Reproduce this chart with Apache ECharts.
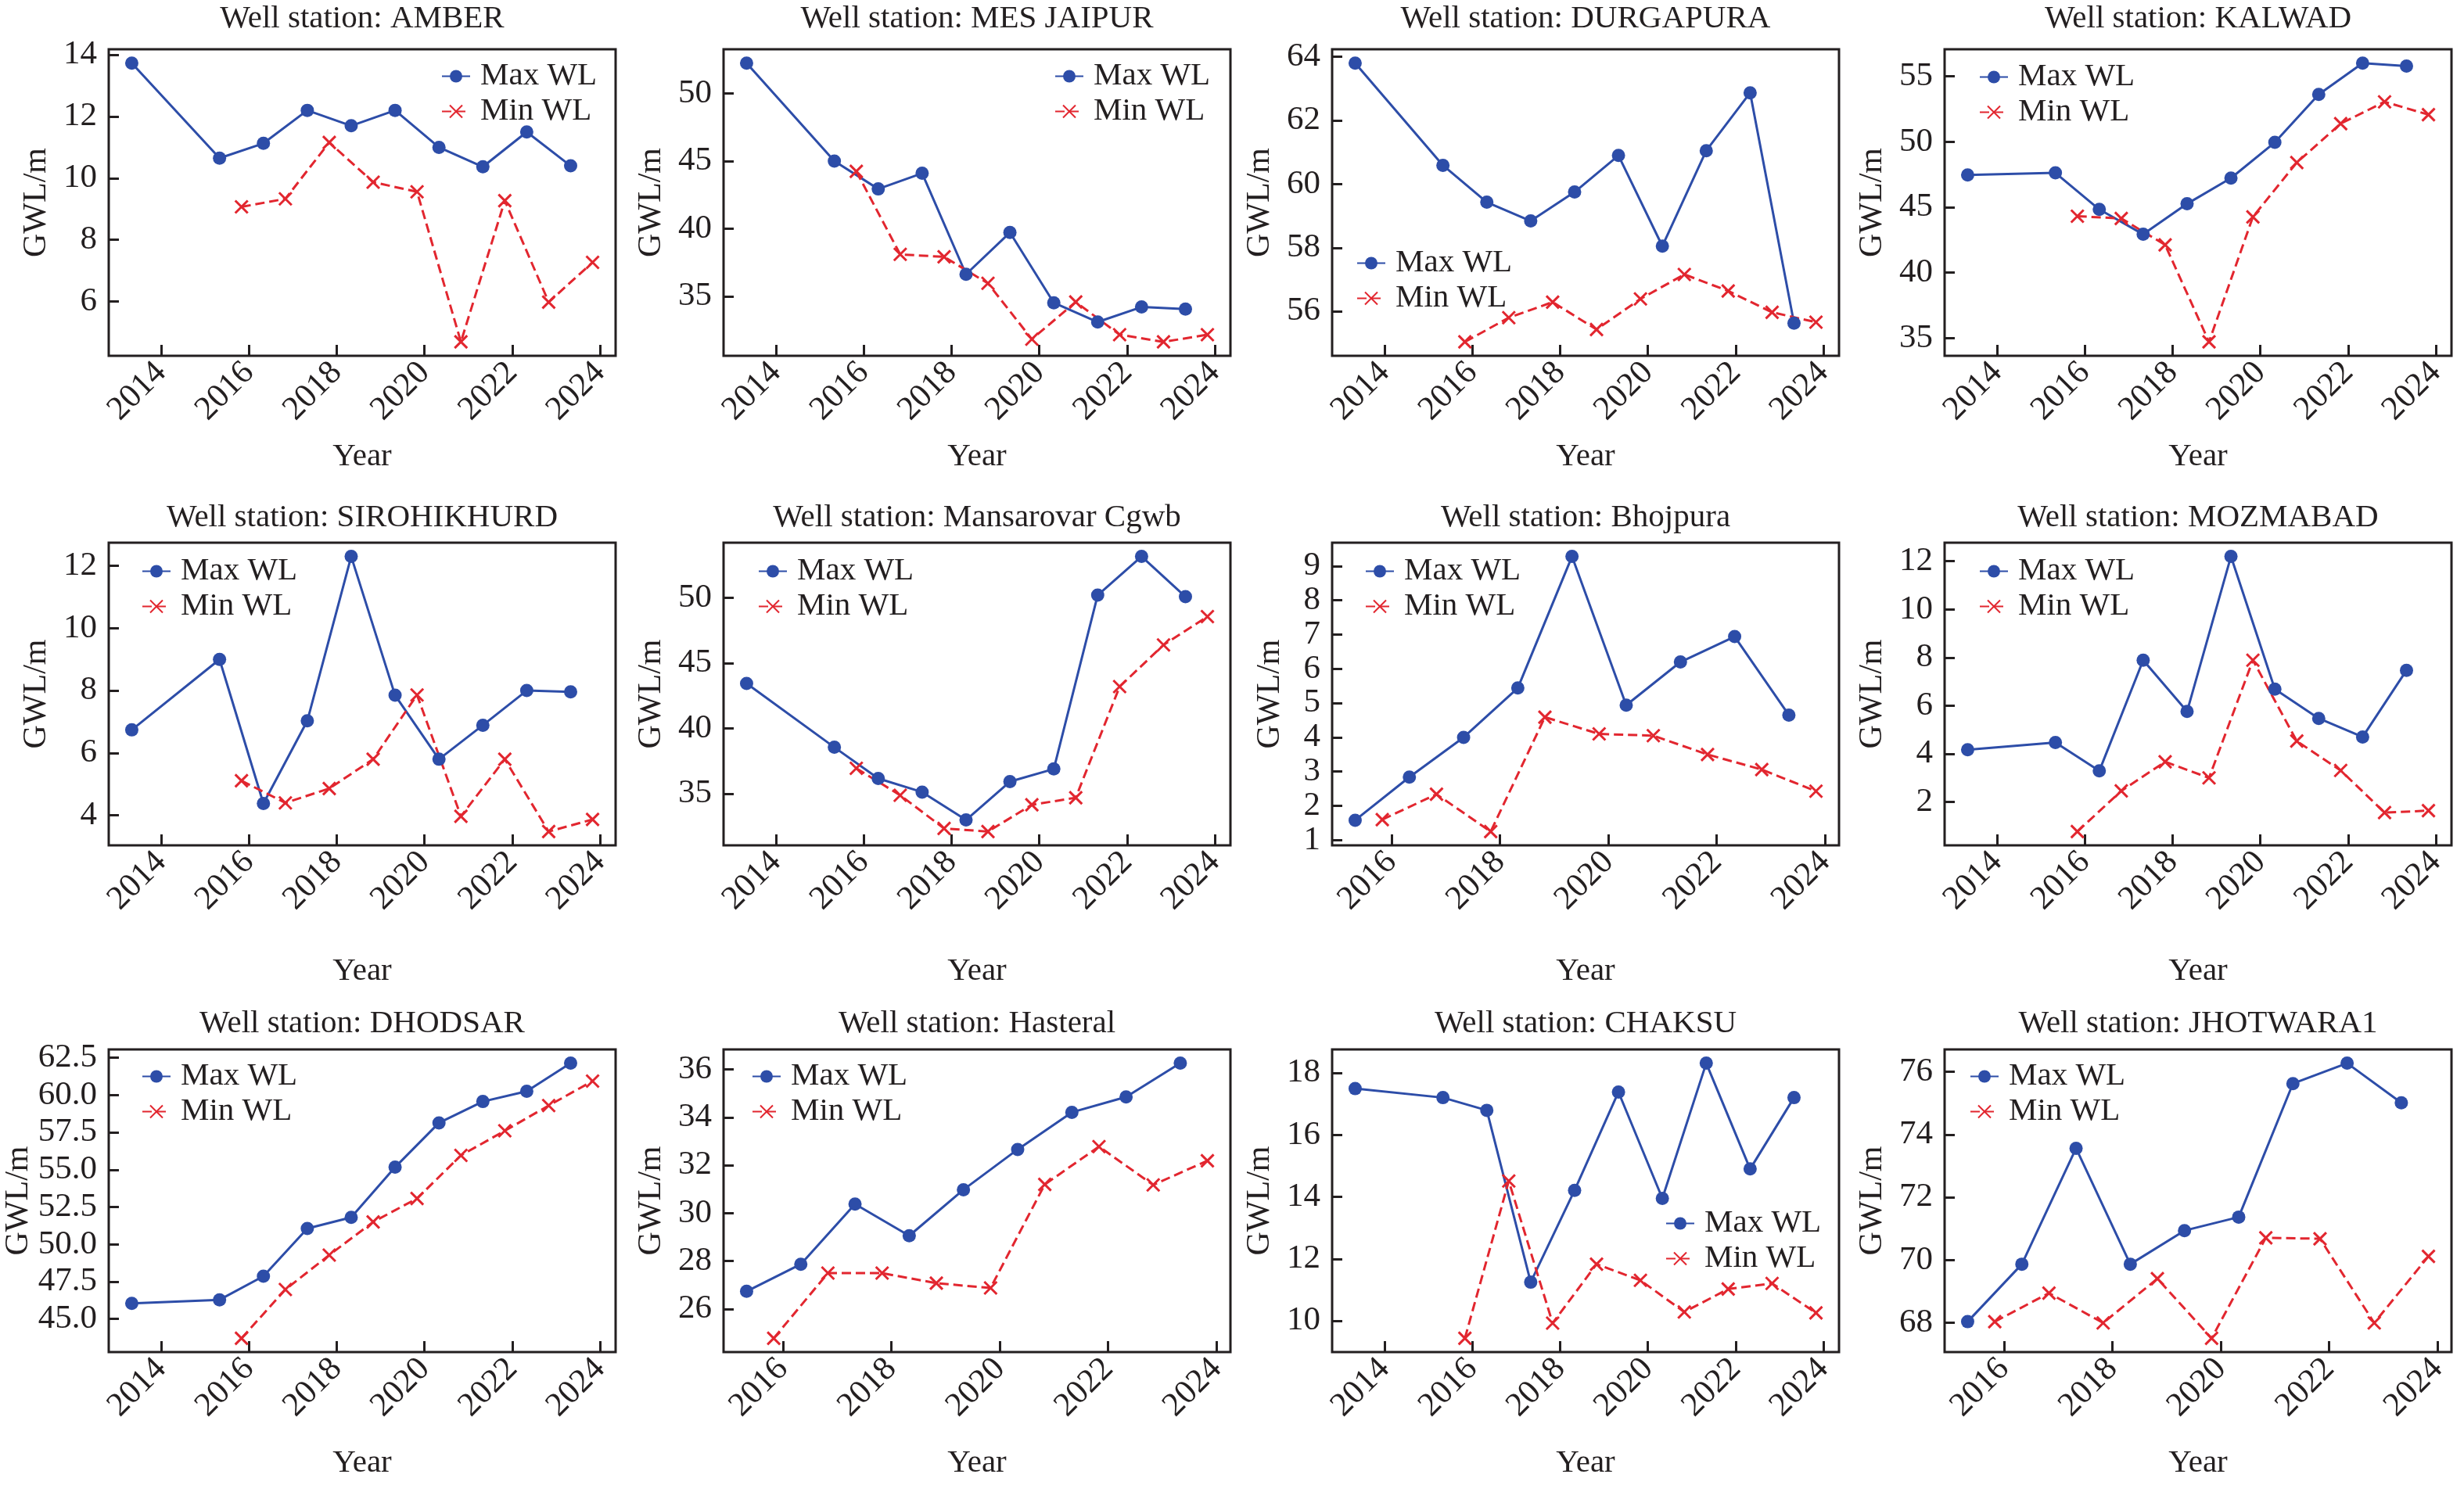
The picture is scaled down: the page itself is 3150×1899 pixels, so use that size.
<!DOCTYPE html>
<html>
<head>
<meta charset="utf-8">
<title>Well stations GWL</title>
<script src="https://cdn.jsdelivr.net/npm/echarts@6.0.0/dist/echarts.min.js"></script>
<style>
  html, body { margin: 0; padding: 0; background: #ffffff; }
  #chart { width: 3150px; height: 1899px; }
</style>
</head>
<body>
<div id="chart"></div>
<script>
// station names, in panel order (4 per row)
const stations = ['AMBER', 'MES JAIPUR', 'DURGAPURA', 'KALWAD',
  'SIROHIKHURD', 'Mansarovar Cgwb', 'Bhojpura', 'MOZMABAD',
  'DHODSAR', 'Hasteral', 'CHAKSU', 'JHOTWARA1'];

// observation years; max readings sit ~April, min readings ~November
const maxYearsLong = [2013, 2015, 2016, 2017, 2018, 2019, 2020, 2021, 2022, 2023];
const maxYearsShort = [2015, 2016, 2017, 2018, 2019, 2020, 2021, 2022, 2023];
const minYears = [2015, 2016, 2017, 2018, 2019, 2020, 2021, 2022, 2023];
const maxOffset = 0.33;
const minOffset = 0.83;

const amberMax = [13.73, 10.65, 11.13, 12.2, 11.7, 12.2, 11.0, 10.37, 11.5, 10.4];
const amberMin = [9.07, 9.33, 11.16, 9.87, 9.56, 4.69, 9.27, 5.98, 7.27];
const mesMax = [52.24, 45.0, 42.94, 44.1, 36.63, 39.72, 34.52, 33.1, 34.21, 34.05];
const mesMin = [44.24, 38.1, 37.92, 35.96, 31.83, 34.58, 32.16, 31.63, 32.16];
const durgMax = [63.8, 60.59, 59.43, 58.84, 59.75, 60.9, 58.05, 61.05, 62.87, 55.63];
const durgMin = [55.04, 55.8, 56.29, 55.43, 56.39, 57.16, 56.64, 55.97, 55.66];
const kalwadMax = [47.46, 47.62, 44.83, 42.93, 45.26, 47.22, 49.95, 53.62, 56.0, 55.78];
const kalwadMin = [44.31, 44.14, 42.12, 34.71, 44.26, 48.41, 51.38, 53.05, 52.07];
const sirohiMax = [6.74, 9.0, 4.38, 7.03, 12.3, 7.85, 5.8, 6.89, 8.0, 7.96];
const sirohiMin = [5.11, 4.4, 4.86, 5.8, 7.86, 3.97, 5.8, 3.48, 3.87];
const mansMax = [43.43, 38.55, 36.16, 35.12, 32.99, 35.92, 36.89, 50.19, 53.15, 50.07];
const mansMin = [36.94, 34.88, 32.34, 32.1, 34.15, 34.69, 43.19, 46.38, 48.55];
const bhojMax = [1.58, 2.84, 4.0, 5.44, 9.28, 4.94, 6.2, 6.94, 4.65];
const bhojMin = [1.6, 2.34, 1.25, 4.59, 4.1, 4.05, 3.5, 3.06, 2.43];
const mozMax = [4.17, 4.47, 3.29, 7.89, 5.76, 12.2, 6.69, 5.47, 4.7, 7.47];
const mozMin = [0.77, 2.46, 3.67, 3.0, 7.89, 4.53, 3.31, 1.56, 1.64];
const dhodMax = [46.04, 46.28, 47.86, 51.06, 51.81, 55.17, 58.14, 59.57, 60.26, 62.14];
const dhodMin = [43.7, 46.97, 49.28, 51.5, 53.07, 55.96, 57.61, 59.3, 60.94];
const hastMax = [26.74, 27.87, 30.38, 29.06, 30.98, 32.66, 34.21, 34.85, 36.26];
const hastMin = [24.78, 27.5, 27.5, 27.08, 26.88, 31.2, 32.78, 31.18, 32.19];
const chakMax = [17.49, 17.2, 16.79, 11.25, 14.21, 17.38, 13.95, 18.31, 14.9, 17.2];
const chakMin = [9.44, 14.51, 9.93, 11.83, 11.31, 10.29, 11.03, 11.21, 10.26];
const jhotMax = [68.04, 69.87, 73.56, 69.87, 70.94, 71.37, 75.62, 76.27, 75.01];
const jhotMin = [68.04, 68.95, 68.0, 69.41, 67.51, 70.71, 70.68, 68.0, 70.12];

const maxWL = [amberMax, mesMax, durgMax, kalwadMax, sirohiMax, mansMax, bhojMax, mozMax, dhodMax, hastMax, chakMax, jhotMax];
const minWL = [amberMin, mesMin, durgMin, kalwadMin, sirohiMin, mansMin, bhojMin, mozMin, dhodMin, hastMin, chakMin, jhotMin];
const maxYearSets = [maxYearsLong, maxYearsLong, maxYearsLong, maxYearsLong,
  maxYearsLong, maxYearsLong, maxYearsShort, maxYearsLong,
  maxYearsLong, maxYearsShort, maxYearsLong, maxYearsShort];

// tick labels
const xTicksLong = [2014, 2016, 2018, 2020, 2022, 2024];
const xTicksShort = [2016, 2018, 2020, 2022, 2024];
const xTickSets = [xTicksLong, xTicksLong, xTicksLong, xTicksLong,
  xTicksLong, xTicksLong, xTicksShort, xTicksLong,
  xTicksLong, xTicksShort, xTicksLong, xTicksShort];
const yTickSets = [
  [6, 8, 10, 12, 14], [35, 40, 45, 50], [56, 58, 60, 62, 64], [35, 40, 45, 50, 55],
  [4, 6, 8, 10, 12], [35, 40, 45, 50], [1, 2, 3, 4, 5, 6, 7, 8, 9], [2, 4, 6, 8, 10, 12],
  [45, 47.5, 50, 52.5, 55, 57.5, 60, 62.5], [26, 28, 30, 32, 34, 36], [10, 12, 14, 16, 18], [68, 70, 72, 74, 76]
];
const yTickDigits = [0, 0, 0, 0, 0, 0, 0, 0, 1, 0, 0, 0];

// layout (pixels)
const colLeft = [139, 925, 1703, 2486];
const plotWidth = 648;
const rowTop = [63, 694, 1342];
const rowHeight = [392, 387, 387];
const titleTop = [4, 642, 1289];
const yearGap = [109, 141, 122];
const legendAt = [[564, 77], [1348, 77], [1734, 316], [2530, 78],
  [181, 710], [969, 710], [1745, 710], [2530, 710],
  [181, 1356], [961, 1356], [2129, 1544], [2518, 1356]];

const FONT = 'Liberation Serif';
const INK = '#231F20';
const BLUE = '#2D4DA8';
const RED = '#E2262F';
const CROSS = 'path://M0,0L10,10M10,0L0,10';
const TICK_FONT = 43;

const chart = echarts.init(document.getElementById('chart'));
const option = {
  animation: false,
  backgroundColor: '#ffffff',
  title: [], grid: [], xAxis: [], yAxis: [], legend: [], series: []
};

stations.forEach(function (name, i) {
  const row = Math.floor(i / 4), col = i % 4;
  const maxPts = maxYearSets[i].map((y, k) => [y + maxOffset, maxWL[i][k]]);
  const minPts = minYears.map((y, k) => [y + minOffset, minWL[i][k]]);
  const all = maxPts.concat(minPts);
  const xs = all.map(p => p[0]), ys = all.map(p => p[1]);
  const x0 = Math.min(...xs), x1 = Math.max(...xs);
  const y0 = Math.min(...ys), y1 = Math.max(...ys);
  const xPad = (x1 - x0) * 0.05, yPad = (y1 - y0) * 0.05;
  const fmtY = v => v.toFixed(yTickDigits[i]);
  // widest tick label, in em
  const longest = Math.max(...yTickSets[i].map(v => {
    const s = fmtY(v);
    return s.replace('.', '').length * 0.5 + (s.indexOf('.') >= 0 ? 0.25 : 0);
  }));

  option.title.push({
    text: 'Well station: ' + name,
    left: colLeft[col] + plotWidth / 2,
    top: titleTop[row],
    textAlign: 'center',
    padding: 0,
    textStyle: { fontFamily: FONT, fontSize: 41, fontWeight: 'normal', color: INK }
  });
  option.grid.push({
    left: colLeft[col], top: rowTop[row], width: plotWidth, height: rowHeight[row],
    show: true, borderColor: INK, borderWidth: 3, backgroundColor: 'transparent',
    containLabel: false, outerBoundsMode: 'none'
  });
  option.xAxis.push({
    gridIndex: i, type: 'value', min: x0 - xPad, max: x1 + xPad,
    name: 'Year', nameLocation: 'middle', nameGap: yearGap[row],
    nameTextStyle: { fontFamily: FONT, fontSize: 41, color: INK },
    axisLine: { show: false },
    splitLine: { show: false },
    axisTick: { show: true, inside: true, length: 14, customValues: xTickSets[i],
      lineStyle: { color: INK, width: 3 } },
    axisLabel: { customValues: xTickSets[i], rotate: 45, margin: 15,
      showMinLabel: true, showMaxLabel: true,
      fontFamily: FONT, fontSize: TICK_FONT, color: INK, formatter: v => String(v) }
  });
  option.yAxis.push({
    gridIndex: i, type: 'value', min: y0 - yPad, max: y1 + yPad,
    name: 'GWL/m', nameLocation: 'middle', nameRotate: 90, nameGap: 45 + 26 * longest,
    nameTextStyle: { fontFamily: FONT, fontSize: 42, color: INK },
    axisLine: { show: false },
    splitLine: { show: false },
    axisTick: { show: true, inside: true, length: 13, customValues: yTickSets[i],
      lineStyle: { color: INK, width: 3 } },
    axisLabel: { customValues: yTickSets[i], margin: 15,
      showMinLabel: true, showMaxLabel: true,
      fontFamily: FONT, fontSize: TICK_FONT, color: INK, formatter: fmtY }
  });
  option.legend.push({
    left: legendAt[i][0], top: legendAt[i][1],
    orient: 'vertical', padding: 0, itemGap: 4, itemWidth: 36, itemHeight: 20,
    selectedMode: false,
    data: ['Max WL', 'Min WL'],
    textStyle: { fontFamily: FONT, fontSize: 41, color: INK, padding: [0, 0, 0, 8] }
  });
  option.series.push({
    type: 'line', name: 'Max WL', xAxisIndex: i, yAxisIndex: i,
    data: maxPts, symbol: 'circle', symbolSize: 17,
    lineStyle: { color: BLUE, width: 3 },
    itemStyle: { color: BLUE, borderWidth: 0 },
    emphasis: { disabled: true }
  });
  option.series.push({
    type: 'line', name: 'Min WL', xAxisIndex: i, yAxisIndex: i,
    data: minPts, symbol: CROSS, symbolSize: 16,
    lineStyle: { color: RED, width: 3, type: [12, 6] },
    itemStyle: { color: RED, borderColor: RED, borderWidth: 3 },
    emphasis: { disabled: true }
  });
});

chart.setOption(option);
</script>
</body>
</html>
